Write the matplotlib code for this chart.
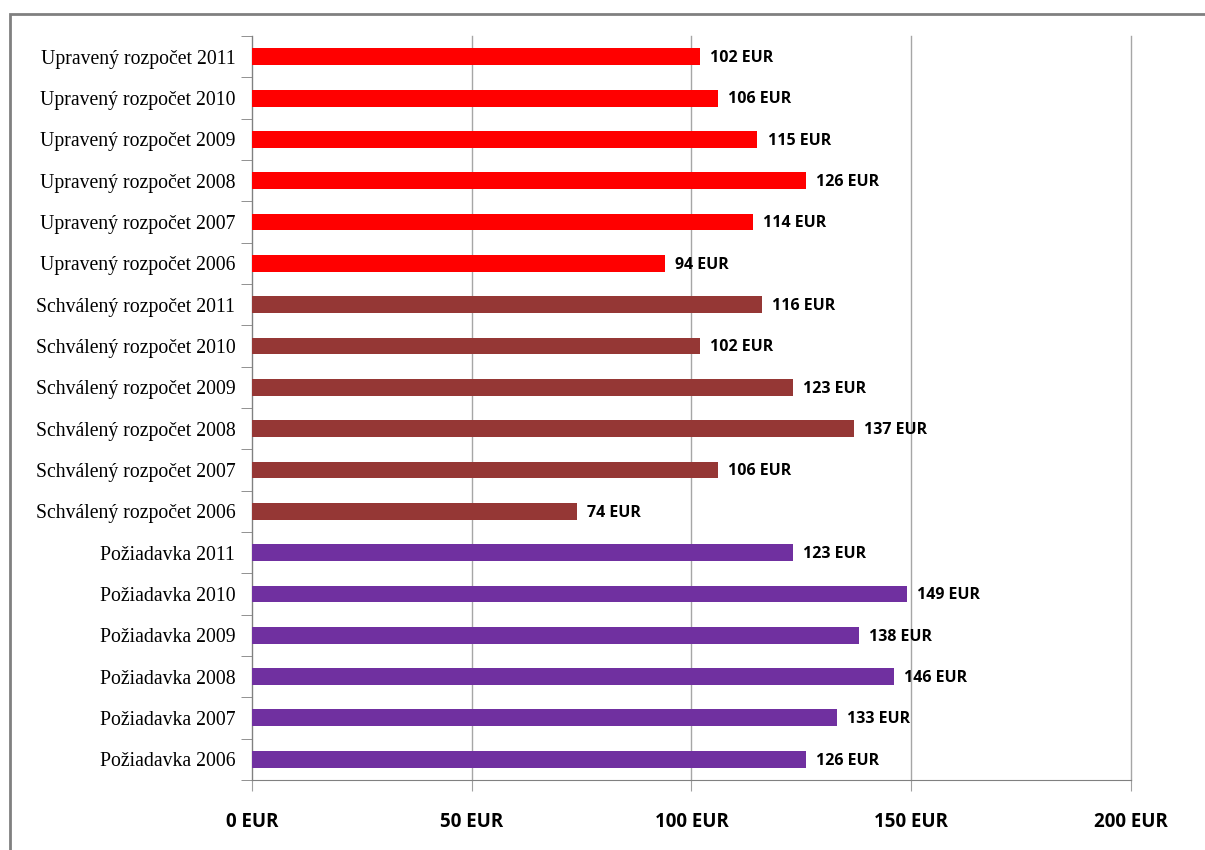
import matplotlib.pyplot as plt
from matplotlib.patches import Rectangle

# categories from bottom to top
labels = ["Požiadavka 2006", "Požiadavka 2007", "Požiadavka 2008",
          "Požiadavka 2009", "Požiadavka 2010", "Požiadavka 2011",
          "Schválený rozpočet 2006", "Schválený rozpočet 2007",
          "Schválený rozpočet 2008", "Schválený rozpočet 2009",
          "Schválený rozpočet 2010", "Schválený rozpočet 2011",
          "Upravený rozpočet 2006", "Upravený rozpočet 2007",
          "Upravený rozpočet 2008", "Upravený rozpočet 2009",
          "Upravený rozpočet 2010", "Upravený rozpočet 2011"]
poziadavka = [126, 133, 146, 138, 149, 123]
schvaleny = [74, 106, 137, 123, 102, 116]
upraveny = [94, 114, 126, 115, 106, 102]
xticks = [0, 50, 100, 150, 200]

values = poziadavka + schvaleny + upraveny
colors = ["#7030A0"] * len(poziadavka) + ["#953735"] * len(schvaleny) + ["#FF0000"] * len(upraveny)

fig = plt.figure(figsize=(12.05, 8.5), dpi=100)
ax = fig.add_axes([0.2091, 0.0824, 0.7295, 0.8752])

pos = list(range(len(labels)))
ax.barh(pos, values, height=0.41, color=colors, zorder=3)

sans = ["Liberation Sans Narrow", "Open Sans", "DejaVu Sans"]
for p, v in zip(pos, values):
    ax.text(v + 2.3, p - 0.03, f"{v} EUR", va="center", ha="left",
            fontsize=11.5, fontweight="bold", family=sans)

ax.set_xlim(0, 200)
ax.set_ylim(-0.5, len(labels) - 0.5)
ax.set_xticks(xticks)
ax.set_xticklabels([f"{t} EUR" for t in xticks], fontsize=13.5, fontweight="bold", family=sans)
ax.set_yticks(pos)
ax.set_yticklabels(labels, fontsize=14.2, family=["Liberation Serif", "DejaVu Serif"])
ax.set_yticks([p - 0.5 for p in pos] + [len(labels) - 0.5], minor=True)
ax.tick_params(axis="y", which="major", length=0, pad=12)
ax.tick_params(axis="y", which="minor", length=8, color="#808080")
ax.tick_params(axis="x", length=8, color="#A0A0A0", pad=15)

ax.grid(axis="x", color="#A6A6A6", linewidth=1, zorder=0)
for gl in ax.get_xgridlines():
    gl.set_clip_on(False)
for s in ["top", "right"]:
    ax.spines[s].set_visible(False)
for s in ["left", "bottom"]:
    ax.spines[s].set_color("#808080")

fig.patches.append(Rectangle((0.0083, -0.05), 1.1, 1.0335, transform=fig.transFigure,
                             fill=False, edgecolor="#808080", linewidth=2))

fig.savefig("out.png", dpi=100)
